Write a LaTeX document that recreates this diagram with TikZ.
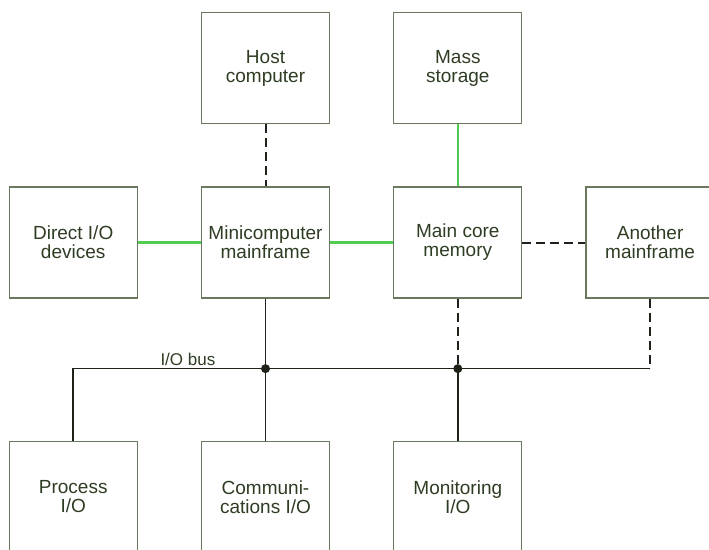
\documentclass[tikz,border=0pt]{standalone}
\usepackage{fontspec}
\setmainfont{Liberation Sans}
\usepackage{tikz}
\usetikzlibrary{positioning}
\definecolor{boxline}{RGB}{105,120,95}
\definecolor{boxtext}{RGB}{45,60,35}
\definecolor{linkgreen}{RGB}{80,205,80}
\definecolor{busblack}{RGB}{30,35,25}

\begin{document}
\begin{tikzpicture}[
			x=1pt,y=1pt,
			node distance=62pt and 63pt,
			box/.style={draw=boxline,line width=1.3pt,minimum width=128pt,minimum height=111pt,inner sep=0pt,align=center,text=boxtext,font=\fontsize{19}{19}\selectfont},
			greenlink/.style={draw=linkgreen,line width=2.2pt},
			dashlink/.style={draw=busblack,line width=2pt,dash pattern=on 9pt off 5pt},
			buslink/.style={draw=busblack,line width=1.5pt},
			junction/.style={circle,fill=busblack,inner sep=0pt,minimum size=9pt}
			]
			\useasboundingbox (0,0) rectangle (709,-549);
			\node[box] (mini) at (265.5,-242.5) {Minicomputer\\mainframe};
			\node[box, left=of mini] (direct) {Direct I/O\\devices};
			\node[box, right=of mini] (main) {Main core\\memory};
			\node[box, right=of main] (another) {Another\\mainframe};
			\node[box, above=of mini] (host) {Host\\computer};
			\node[box, above=of main] (mass) {Mass\\storage};
			\node[box, below=142pt of mini] (comm) {Communi-\\cations I/O};
			\node[box, left=of comm] (process) {Process\\I/O};
			\node[box, right=of comm] (monit) {Monitoring\\I/O};
			% I/O bus
			\coordinate[below=70pt of mini.south] (j1);
			\coordinate (j2) at (main.south |- j1);
			\coordinate (j3) at (another.south |- j1);
			\node[text=boxtext,font=\fontsize{17}{17}\selectfont,inner sep=2pt,above left=1pt and 48pt of j1] (buslbl) {I/O bus};
			\draw[dashlink] (host)--(mini);
			\draw[greenlink] (mass)--(main);
			\draw[greenlink] (direct)--(mini);
			\draw[greenlink] (mini)--(main);
			\draw[dashlink] (main)--(another);
			\draw[buslink] (mini)--(j1)--(comm);
			\draw[dashlink] (main)--(j2);
			\draw[buslink] (j2)--(monit);
			\draw[buslink] (process) |- (j1)--(j3);
			\draw[dashlink] (another)--(j3);
			\node[junction] (dot1) at (j1) {};
			\node[junction] (dot2) at (j2) {};
		\end{tikzpicture}
\end{document}
